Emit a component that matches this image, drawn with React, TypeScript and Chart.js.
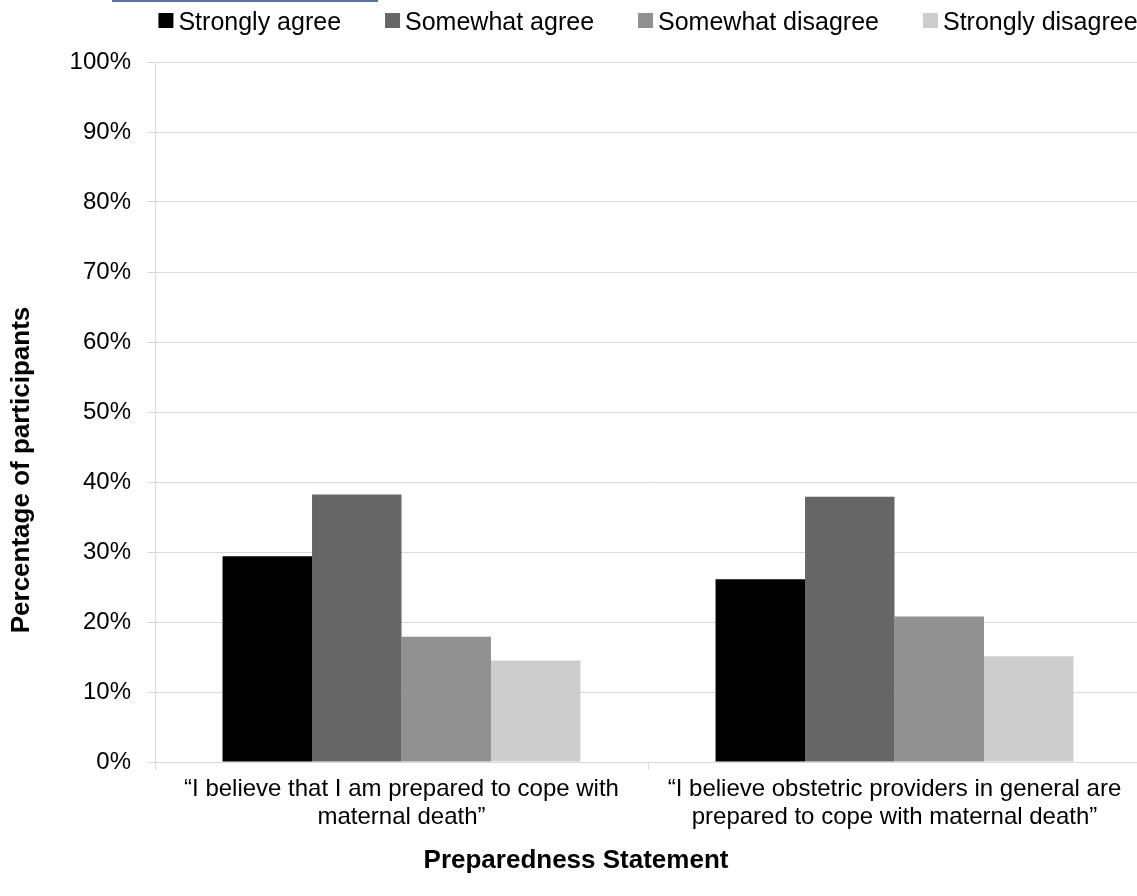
import React, { useEffect, useRef } from 'react';
import { Chart, registerables } from 'chart.js';

Chart.register(...registerables);

const FONT = '"Liberation Sans", Arial, Helvetica, sans-serif';

const categories: string[][] = [
  ['\u201CI believe that I am prepared to cope with', 'maternal death\u201D'],
  ['\u201CI believe obstetric providers in general are', 'prepared to cope with maternal death\u201D'],
];
const seriesNames = ['Strongly agree', 'Somewhat agree', 'Somewhat disagree', 'Strongly disagree'];
const stronglyAgree = [29.4, 26.1];
const somewhatAgree = [38.2, 37.9];
const somewhatDisagree = [17.9, 20.8];
const stronglyDisagree = [14.5, 15.1];
const seriesColors = ['#000000', '#666666', '#919191', '#cdcdcd'];
const yMin = 0;
const yMax = 100;
const yStep = 10;
const xTitle = 'Preparedness Statement';
const yTitle = 'Percentage of participants';

const GRID = '#d9d9d9';

const legendAndTitlesPlugin = {
  id: 'customLegendTitles',
  afterDraw(chart: any) {
    const ctx = chart.ctx as CanvasRenderingContext2D;
    const { left, right } = chart.chartArea;
    ctx.save();
    // legend
    ctx.font = `25px ${FONT}`;
    const box = 15;
    const gapText = 5;
    const spacing = 44;
    const items = chart.data.datasets.map((ds: any) => ({
      label: ds.label as string,
      color: ds.backgroundColor as string,
      w: ctx.measureText(ds.label).width,
    }));
    const total =
      items.reduce((s: number, it: any) => s + box + gapText + it.w, 0) + spacing * (items.length - 1);
    let x = (left + right) / 2 - total / 2;
    const baseline = 30;
    ctx.textBaseline = 'alphabetic';
    ctx.textAlign = 'left';
    items.forEach((it: any) => {
      ctx.fillStyle = it.color;
      ctx.fillRect(x, 13, box, box);
      ctx.fillStyle = '#000000';
      ctx.fillText(it.label, x + box + gapText, baseline);
      x += box + gapText + it.w + spacing;
    });

    // axis titles
    ctx.font = `bold 26px ${FONT}`;
    ctx.fillStyle = '#000000';
    ctx.textAlign = 'center';
    ctx.textBaseline = 'middle';
    ctx.fillText(xTitle, 576, 861);

    ctx.translate(22, 470);
    ctx.rotate(-Math.PI / 2);
    ctx.fillText(yTitle, 0, 0);
    ctx.restore();
  },
};

export default function App() {
  const ref = useRef<HTMLCanvasElement | null>(null);

  useEffect(() => {
    if (!ref.current) return;
    const seriesValues = [stronglyAgree, somewhatAgree, somewhatDisagree, stronglyDisagree];
    const chart = new Chart(ref.current, {
      type: 'bar',
      data: {
        labels: categories as any,
        datasets: seriesNames.map((name, i) => ({
          label: name,
          data: seriesValues[i],
          backgroundColor: seriesColors[i],
          borderWidth: 0,
          categoryPercentage: 0.726,
          barPercentage: 1.0,
        })),
      },
      options: {
        animation: false,
        responsive: false,
        layout: { padding: { top: 62, left: 0, right: 0, bottom: 0 } },
        plugins: {
          legend: { display: false },
          tooltip: { enabled: false },
        },
        scales: {
          x: {
            grid: {
              display: true,
              drawOnChartArea: false,
              drawTicks: true,
              tickLength: 8,
              color: GRID,
              offset: true,
            },
            border: { display: true, color: GRID, width: 1 },
            ticks: {
              color: '#000000',
              font: { family: FONT, size: 24, lineHeight: 1.15 },
              padding: 6,
              maxRotation: 0,
              minRotation: 0,
              autoSkip: false,
            },
            title: { display: false },
            afterFit: (scale: any) => {
              scale.height = 134;
            },
          },
          y: {
            min: yMin,
            max: yMax,
            ticks: {
              stepSize: yStep,
              color: '#000000',
              font: { family: FONT, size: 24 },
              padding: 16,
              callback: (v: any) => `${v}%`,
            },
            grid: {
              color: GRID,
              tickLength: 8,
              lineWidth: 1,
            },
            border: { display: true, color: GRID, width: 1 },
            title: { display: false },
            afterFit: (scale: any) => {
              scale.width = 155;
            },
          },
        },
      },
      plugins: [legendAndTitlesPlugin],
    });
    return () => chart.destroy();
  }, []);

  return (
    <div
      style={{
        position: 'fixed',
        left: 0,
        top: 0,
        width: 1137,
        height: 896,
        overflow: 'hidden',
        background: '#ffffff',
      }}
    >
      <div
        style={{
          position: 'absolute',
          left: 112,
          top: 0,
          width: 266,
          height: 2,
          background: '#5a74a8',
          zIndex: 2,
        }}
      />
      <canvas ref={ref} width={1141} height={896} style={{ display: 'block' }} />
    </div>
  );
}
